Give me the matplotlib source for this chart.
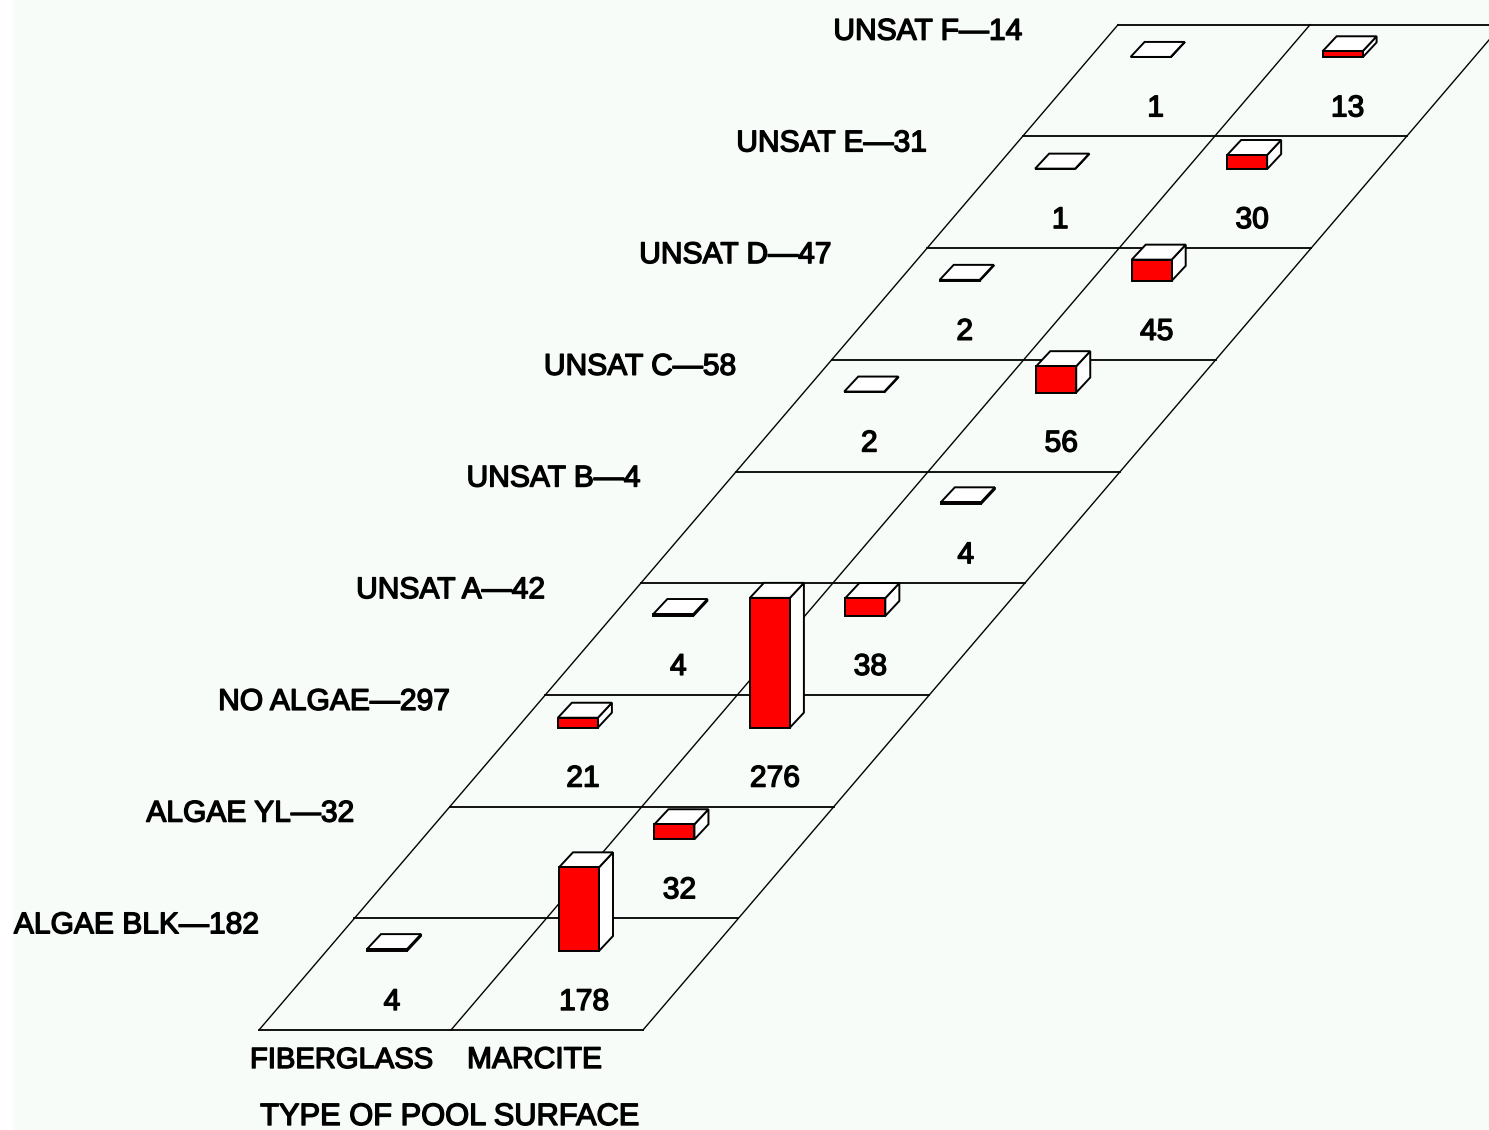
import matplotlib
matplotlib.use("Agg")
import matplotlib.pyplot as plt
from matplotlib.patches import Polygon, Rectangle
import matplotlib.patheffects as pe

rows = ["ALGAE BLK\u2014182", "ALGAE YL\u201432", "NO ALGAE\u2014297", "UNSAT A\u201442", "UNSAT B\u20144",
        "UNSAT C\u201458", "UNSAT D\u201447", "UNSAT E\u201431", "UNSAT F\u201414"]
surfaces = ["FIBERGLASS", "MARCITE"]
fiberglass = [4, 0, 21, 4, 0, 2, 2, 1, 1]
marcite = [178, 32, 276, 38, 4, 56, 45, 30, 13]
axis_title = "TYPE OF POOL SURFACE"

# floor projection, pixels
X0, Y0 = 259, 1030
ROW_DX, ROW_DY = 95.45, -111.7
COL_DX = 192
UNIT = 0.47  # bar height per count
BAR_W, DEPTH_X, DEPTH_Y = 40, 14, -15
BG = "#f7fcf9"

plt.rcParams['font.family'] = ['Liberation Sans', 'DejaVu Sans']
fig = plt.figure(figsize=(14.89, 11.30), dpi=100)
ax = fig.add_axes([0, 0, 1, 1])
ax.set_xlim(0, 1489)
ax.set_ylim(1130, 0)
ax.axis("off")
fig.patch.set_facecolor("white")
ax.add_patch(Rectangle((13, 0), 1476, 1130, facecolor=BG, edgecolor="none", zorder=0))


def floor(r, c):
    return X0 + r * ROW_DX + c * COL_DX, Y0 + r * ROW_DY


def label(x, y, s, ha="center", size=21.6):
    t = ax.text(x, y + 2, s, fontsize=size, ha=ha, va="center", color="black", zorder=50)
    t.set_path_effects([pe.withStroke(linewidth=1.0, foreground="black")])


def bar(r, c, v):
    x, y = floor(r, c)
    x += 108
    y -= 79
    h = v * UNIT
    top = y - h
    z = 10 + (len(rows) - r) * 2 + c
    # side, top, front
    ax.add_patch(Polygon([(x + BAR_W, y), (x + BAR_W + DEPTH_X, y + DEPTH_Y),
                          (x + BAR_W + DEPTH_X, top + DEPTH_Y), (x + BAR_W, top)],
                         facecolor="white", edgecolor="black", linewidth=1.4, zorder=z))
    ax.add_patch(Polygon([(x, top), (x + DEPTH_X, top + DEPTH_Y),
                          (x + BAR_W + DEPTH_X, top + DEPTH_Y), (x + BAR_W, top)],
                         facecolor="white", edgecolor="black", linewidth=1.4, zorder=z))
    ax.add_patch(Rectangle((x, top), BAR_W, h, facecolor="#ff0000",
                           edgecolor="black", linewidth=1.4, zorder=z))


# floor grid
for r in range(len(rows) + 1):
    x1, y1 = floor(r, 0)
    x2, y2 = floor(r, 2)
    ax.plot([x1, x2], [y1, y2], color="black", lw=1.3, zorder=2)
for c in range(3):
    x1, y1 = floor(0, c)
    x2, y2 = floor(len(rows), c)
    ax.plot([x1, x2], [y1, y2], color="black", lw=1.0, zorder=2)

for r, name in enumerate(rows):
    x, _ = floor(r, 0)
    _, y = floor(r + 1, 0)
    label(x, y + 5, name, ha="right")
    for c, vals in enumerate([fiberglass, marcite]):
        v = vals[r]
        if v == 0:
            continue
        bar(r, c, v)
        cx, cy = floor(r, c)
        label(cx + 133, cy - 30, str(v))

label(250, 1058, surfaces[0], ha="left", size=21)
label(467, 1058, surfaces[1], ha="left")
label(450, 1115, axis_title, size=22.2)

fig.savefig("out.png", dpi=100, facecolor="white")
